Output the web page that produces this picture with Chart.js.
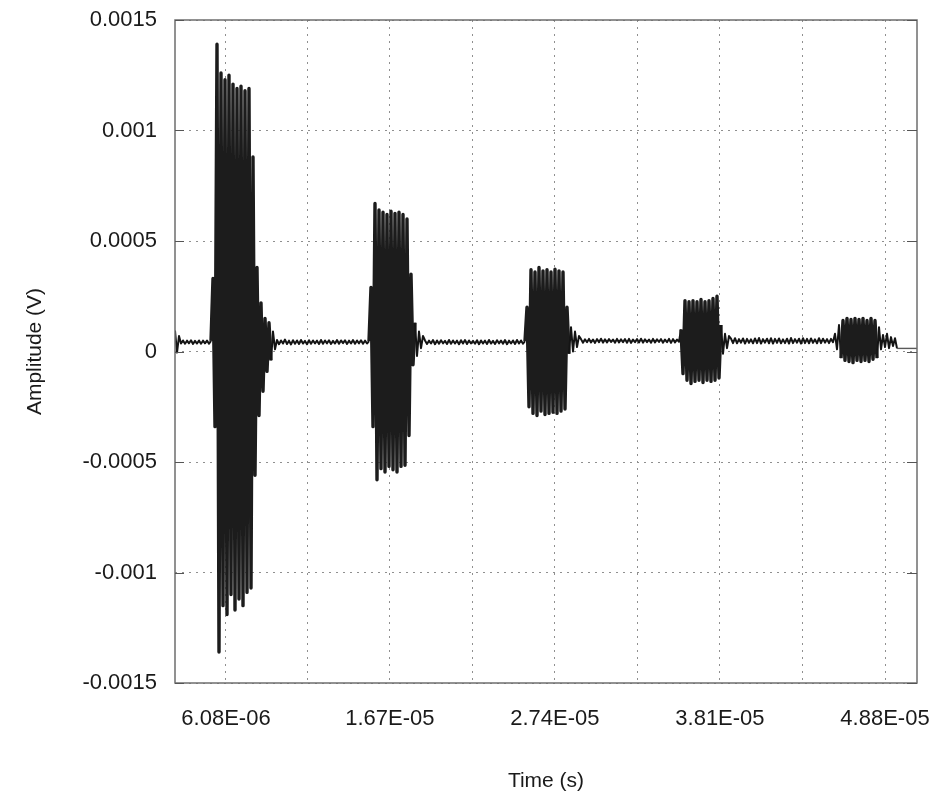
<!DOCTYPE html>
<html>
<head>
<meta charset="utf-8">
<script src="https://cdn.jsdelivr.net/npm/chart.js@4"></script>
<style>
html,body{margin:0;padding:0;background:#ffffff;}
#wrap{width:934px;height:796px;position:relative;}
</style>
</head>
<body>
<div id="wrap"><canvas id="c" width="934" height="796"></canvas></div>
<script>
// ---- Data (amplitudes in microvolts) ----
// Sampled waveform: one sample every samplePeriodS seconds starting at sampleStartS
const sampleStartS = 2.774e-6;
const samplePeriodS = 1.2965e-7;

const noise0 = [95,-5,70,36,50,35,49,37,51,34,48,36,50,35,49,37,50,35,48];
const burst1 = [330,-340,1390,-1360,1260,-1150,1230,-1190,1250,-1100,
                1210,-1170,1190,-1120,1200,-1150,1180,-1090,1190,-1070,
                880,-560,380,-290,220,-180,150,-90,130,-40,90,10];
const noise1 = [52,33,50,36,54,34,49,32,51,35,50,34,52,36,48,33,51,35,50,37,
                49,34,52,35,50,37,51,34,48,36,52,35,50,38,51,34,49,36,52,35,
                50,37,51,35,49,36,47];
const burst2 = [290,-340,670,-580,640,-530,630,-545,620,-520,
                635,-535,625,-545,630,-520,620,-515,600,-380,
                350,-60,130,-20,90,15,70];
const noise2 = [50,34,49,36,52,33,50,35,51,37,48,34,52,35,50,36,49,33,51,36,
                52,34,50,37,48,35,51,33,50,36,49,34,52,36,48,34,51,37,50,35,
                52,33,49,36,50,34,52,36,50,35,47];
const burst3 = [200,-250,370,-280,360,-290,380,-270,365,-285,
                370,-280,360,-275,372,-280,365,-270,360,-260,
                200,-10,110,0,90,20,70];
const noise3 = [56,40,55,42,57,41,54,39,56,42,58,40,55,41,56,43,54,40,57,41,
                55,42,56,40,57,39,54,42,56,41,58,40,55,42,54,40,57,41,55,43,
                56,40,54,42,57,39,56,41,54,44];
const burst4 = [100,-100,230,-130,225,-145,230,-135,225,-130,
                235,-140,225,-130,230,-135,240,-130,250,-120,
                120,-10,80,15,70];
const noise4 = [58,38,60,37,56,40,59,36,57,39,55,37,59,38,61,36,56,40,58,37,
                60,36,57,39,59,37,55,38,58,36,61,38,56,40,58,36,60,38,57,37,
                59,39,55,37,60,38,58,40,56,38,57,42];
const burst5 = [80,10,120,-30,140,-40,150,-45,145,-50,
                150,-40,145,-45,150,-40,140,-45,150,-35,
                140,-30,110,10,75,20,80,15,65,25,60,14];
const tail   = [14,14,14,14,14,14,14,14,14,14];

// Axis ticks
const xTickValues = [6.08e-6, 1.67e-5, 2.74e-5, 3.81e-5, 4.88e-5];
const xTickLabels = ['6.08E-06','1.67E-05','2.74E-05','3.81E-05','4.88E-05'];
const yTickValues = [-0.0015,-0.001,-0.0005,0,0.0005,0.001,0.0015];
const yTickLabels = ['-0.0015','-0.001','-0.0005','0','0.0005','0.001','0.0015'];
const xMin = 2.774e-6, xMax = 5.0874e-5;

// ---- Build the series ----
const amplitudesUv = [].concat(noise0, burst1, noise1, burst2, noise2, burst3,
                               noise3, burst4, noise4, burst5, tail);
const points = amplitudesUv.map((uv, i) => ({x: sampleStartS + i * samplePeriodS, y: uv * 1e-6}));

// grid positions: labelled ticks plus midpoints between them
const xGridValues = [];
xTickValues.forEach((v, i) => {
  xGridValues.push(v);
  if (i < xTickValues.length - 1) xGridValues.push((v + xTickValues[i + 1]) / 2);
});

const FONT = "'Liberation Sans', Arial, Helvetica, sans-serif";

const frame = {
  id: 'frame',
  afterDraw(chart) {
    const {ctx, chartArea: a, scales} = chart;
    ctx.save();
    ctx.strokeStyle = '#6e6e6e';
    ctx.lineWidth = 1.5;
    ctx.strokeRect(a.left, a.top, a.right - a.left, a.bottom - a.top);
    ctx.strokeStyle = '#555';
    ctx.lineWidth = 1.2;
    yTickValues.forEach(v => {
      const y = Math.round(scales.y.getPixelForValue(v)) + 0.5;
      ctx.beginPath();
      ctx.moveTo(a.left, y); ctx.lineTo(a.left + 9, y);
      ctx.moveTo(a.right - 10, y); ctx.lineTo(a.right, y);
      ctx.stroke();
    });
    ctx.restore();
  }
};

const swing = c => Math.abs(c.p1.parsed.y - c.p0.parsed.y);

new Chart(document.getElementById('c'), {
  type: 'line',
  data: {
    datasets: [{
      data: points,
      borderColor: '#141414',
      borderWidth: 2,
      borderJoinStyle: 'round',
      pointRadius: 0,
      tension: 0,
      fill: false,
      segment: {
        borderWidth: c => swing(c) > 1.5e-4 ? 3.4 : (swing(c) < 1e-7 ? 1.4 : 2),
        borderColor: c => swing(c) > 1.5e-4 ? '#1c1c1c' : (swing(c) < 1e-7 ? '#5a5a5a' : '#141414')
      }
    }]
  },
  options: {
    responsive: false,
    devicePixelRatio: 1,
    animation: false,
    parsing: false,
    layout: {padding: {left: 0, right: 17, top: 20, bottom: 0}},
    plugins: {legend: {display: false}, tooltip: {enabled: false}},
    scales: {
      x: {
        type: 'linear',
        min: xMin, max: xMax,
        afterBuildTicks: s => { s.ticks = xGridValues.map(v => ({value: v})); },
        afterFit: s => { s.height = 113; s.paddingLeft = 0; s.paddingRight = 0; },
        ticks: {
          autoSkip: false, maxRotation: 0, minRotation: 0,
          padding: 23,
          color: '#1a1a1a',
          font: {family: FONT, size: 22},
          callback: v => {
            const k = xTickValues.findIndex(t => Math.abs(t - v) < 1e-9);
            return k >= 0 ? xTickLabels[k] : '';
          }
        },
        grid: {color: '#8f8f8f', lineWidth: 1, drawTicks: false},
        border: {display: false, dash: [2, 5]},
        title: {display: true, text: 'Time (s)', color: '#1a1a1a',
                font: {family: FONT, size: 21}, padding: {top: 0, bottom: 2}}
      },
      y: {
        type: 'linear',
        min: -0.0015, max: 0.0015,
        afterBuildTicks: s => { s.ticks = yTickValues.map(v => ({value: v})); },
        afterFit: s => { s.width = 175; s.paddingTop = 0; s.paddingBottom = 0; },
        ticks: {
          padding: 18,
          color: '#1a1a1a',
          font: {family: FONT, size: 22},
          callback: v => {
            const k = yTickValues.findIndex(t => Math.abs(t - v) < 1e-9);
            return k >= 0 ? yTickLabels[k] : '';
          }
        },
        grid: {color: '#8f8f8f', lineWidth: 1, drawTicks: false},
        border: {display: false, dash: [2, 5]},
        title: {display: true, text: 'Amplitude (V)', color: '#1a1a1a',
                font: {family: FONT, size: 21}, padding: {top: 23, bottom: 0}}
      }
    }
  },
  plugins: [frame]
});
</script>
</body>
</html>
